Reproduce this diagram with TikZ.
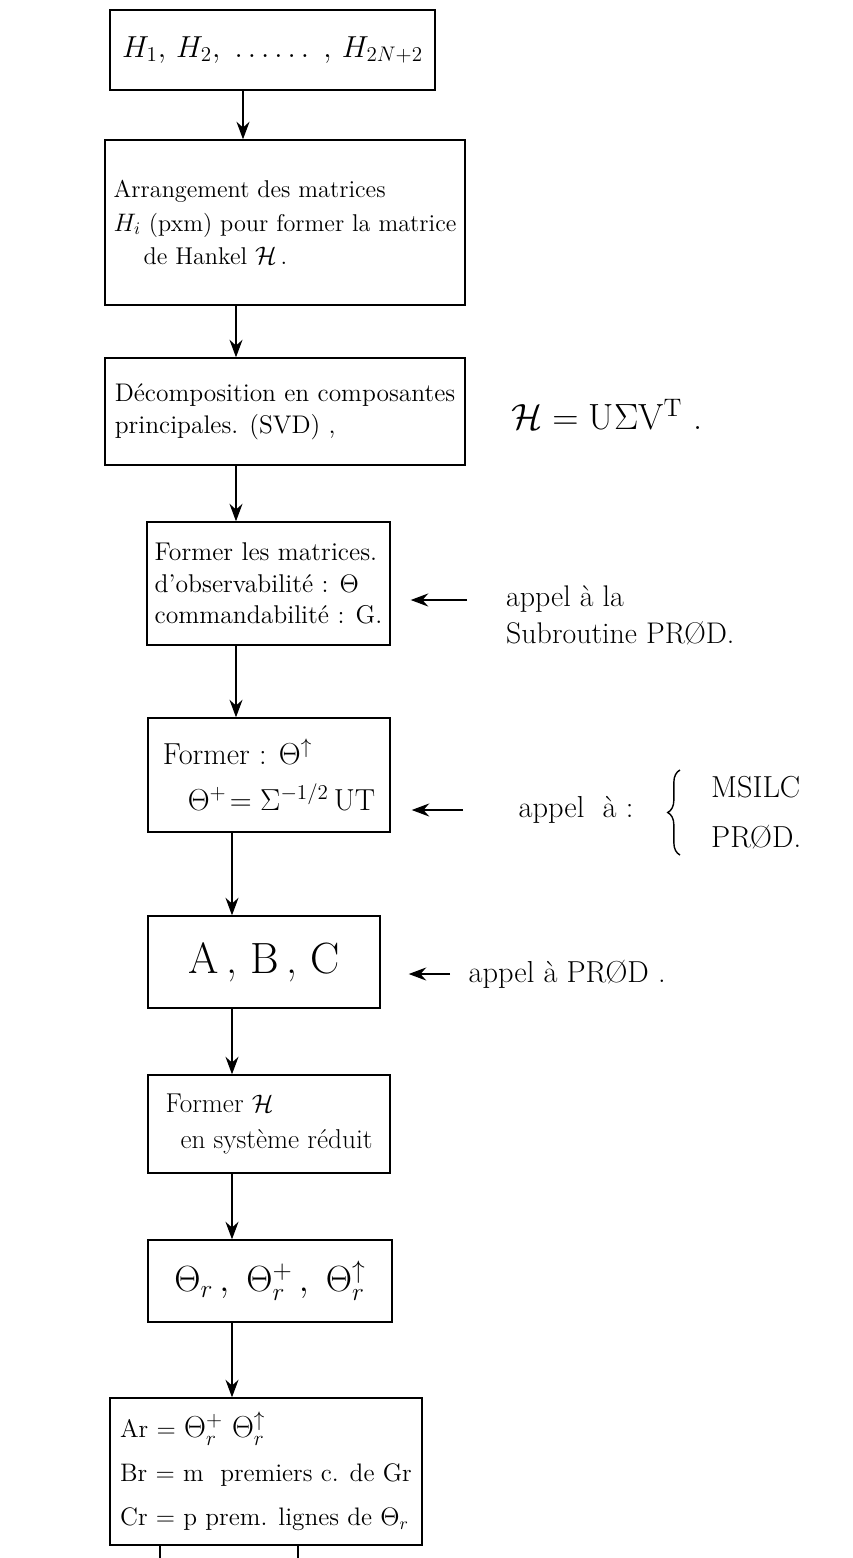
\documentclass[tikz,border=0pt]{standalone}
\usepackage{fontspec}
\usetikzlibrary{arrows.meta,decorations.pathreplacing}

\begin{document}
\begin{tikzpicture}[
  box/.style={draw,thick,inner sep=2pt,align=left,font=\large},
  flow/.style={thick,-{Stealth[length=3.5mm,width=2.6mm]}},
  note/.style={anchor=west,align=left,font=\LARGE}]
  \useasboundingbox (0,0) rectangle (17.06,-31.16);
  % main column
  \node[box,minimum width=6.5cm,minimum height=1.6cm,font=\LARGE] (hseq) at (5.45,-1.0)
    {$H_1,\,H_2,\ \ldots\ldots\ ,\,H_{2N+2}$};
  \node[box,minimum width=7.2cm,minimum height=3.3cm,font=\fontsize{13.8}{19}\selectfont] (arrange) at (5.7,-4.45)
    {Arrangement des matrices\\ $H_i$ (pxm) pour former la matrice\\ \hspace{0.6cm}de Hankel $\mathcal{H}$\,.};
  \node[box,minimum width=7.2cm,minimum height=2.14cm,font=\fontsize{14.5}{18}\selectfont] (svd) at (5.7,-8.23)
    {Décomposition en composantes\\ principales. (SVD)\ ,};
  \node[box,minimum width=4.86cm,minimum height=2.46cm,font=\fontsize{14.6}{18}\selectfont] (obs) at (5.37,-11.67)
    {Former les matrices.\\ d'observabilité : $\Theta$\\ commandabilité : G.};
  \node[box,minimum width=4.84cm,minimum height=2.28cm,font=\LARGE] (pinv) at (5.38,-15.5)
    {Former : $\Theta^{\uparrow}$\\[4pt] \hspace{0.5cm}$\Theta^{+}\!=\Sigma^{-1/2}\,\mathrm{UT}$};
  \node[box,minimum width=4.64cm,minimum height=1.84cm,font=\Huge] (abc) at (5.28,-19.24)
    {A\,, B\,, C};
  \node[box,minimum width=4.84cm,minimum height=1.96cm,font=\fontsize{15.5}{21}\selectfont] (hred) at (5.38,-22.48)
    {Former $\mathcal{H}$\\ \hspace{0.3cm}en système réduit};
  \node[box,minimum width=4.88cm,minimum height=1.64cm,font=\huge] (thr) at (5.4,-25.62)
    {$\Theta_r\,,\ \Theta_r^{+}\,,\ \Theta_r^{\uparrow}$};
  \node[box,minimum width=6.24cm,minimum height=2.94cm,font=\fontsize{14.4}{25}\selectfont] (red) at (5.32,-29.43)
    {Ar = {\LARGE$\Theta_r^{+}\ \Theta_r^{\uparrow}$}\\ Br = m\ \ premiers c. de Gr\\ Cr = p prem. lignes de $\Theta_r$};
  % flow arrows
  \coordinate (c1) at (4.86,0);
  \coordinate (c2) at (4.72,0);
  \coordinate (c3) at (4.64,0);
  \draw[flow] (hseq.south -| c1) -- (arrange.north -| c1);
  \draw[flow] (arrange.south -| c2) -- (svd.north -| c2);
  \draw[flow] (svd.south -| c2) -- (obs.north -| c2);
  \draw[flow] (obs.south -| c2) -- (pinv.north -| c2);
  \draw[flow] (pinv.south -| c3) -- (abc.north -| c3);
  \draw[flow] (abc.south -| c3) -- (hred.north -| c3);
  \draw[flow] (hred.south -| c3) -- (thr.north -| c3);
  \draw[flow] (thr.south -| c3) -- (red.north -| c3);
  % side notes
  \node[anchor=west,font=\huge] (svdeq) at (10.1,-8.3)
    {$\mathcal{H} = \mathrm{U}\Sigma\mathrm{V}^{\mathrm{T}}$\ .};
  \coordinate (in1) at (9.34,-12.0);
  \draw[flow] (in1) -- ([xshift=4mm]obs.east |- in1);
  \node[note,font=\fontsize{17}{21}\selectfont] (call1) at (10.0,-12.3) {appel à la\\ Subroutine PRØD.};
  \coordinate (in2) at (9.26,-16.2);
  \draw[flow] (in2) -- ([xshift=4.2mm]pinv.east |- in2);
  \node[note] (call2) at (10.25,-16.2) {appel \ à :};
  \node[note] (msilc) at (14.1,-15.75) {MSILC};
  \node[note] (prod) at (14.1,-16.75) {PRØD.};
  \draw[thick,decorate,decoration={brace,amplitude=7pt}]
    (13.6,-17.1) -- (13.6,-15.4);
  \coordinate (in3) at (9.0,-19.48);
  \draw[flow] (in3) -- ([xshift=5.6mm]abc.east |- in3);
  \node[note] (call3) at (9.25,-19.48) {appel à PRØD .};
  % lines leaving the page
  \coordinate (s1) at (3.2,-31.16);
  \coordinate (s2) at (5.96,-31.16);
  \draw[thick] (red.south -| s1) -- (s1);
  \draw[thick] (red.south -| s2) -- (s2);
\end{tikzpicture}
\end{document}
